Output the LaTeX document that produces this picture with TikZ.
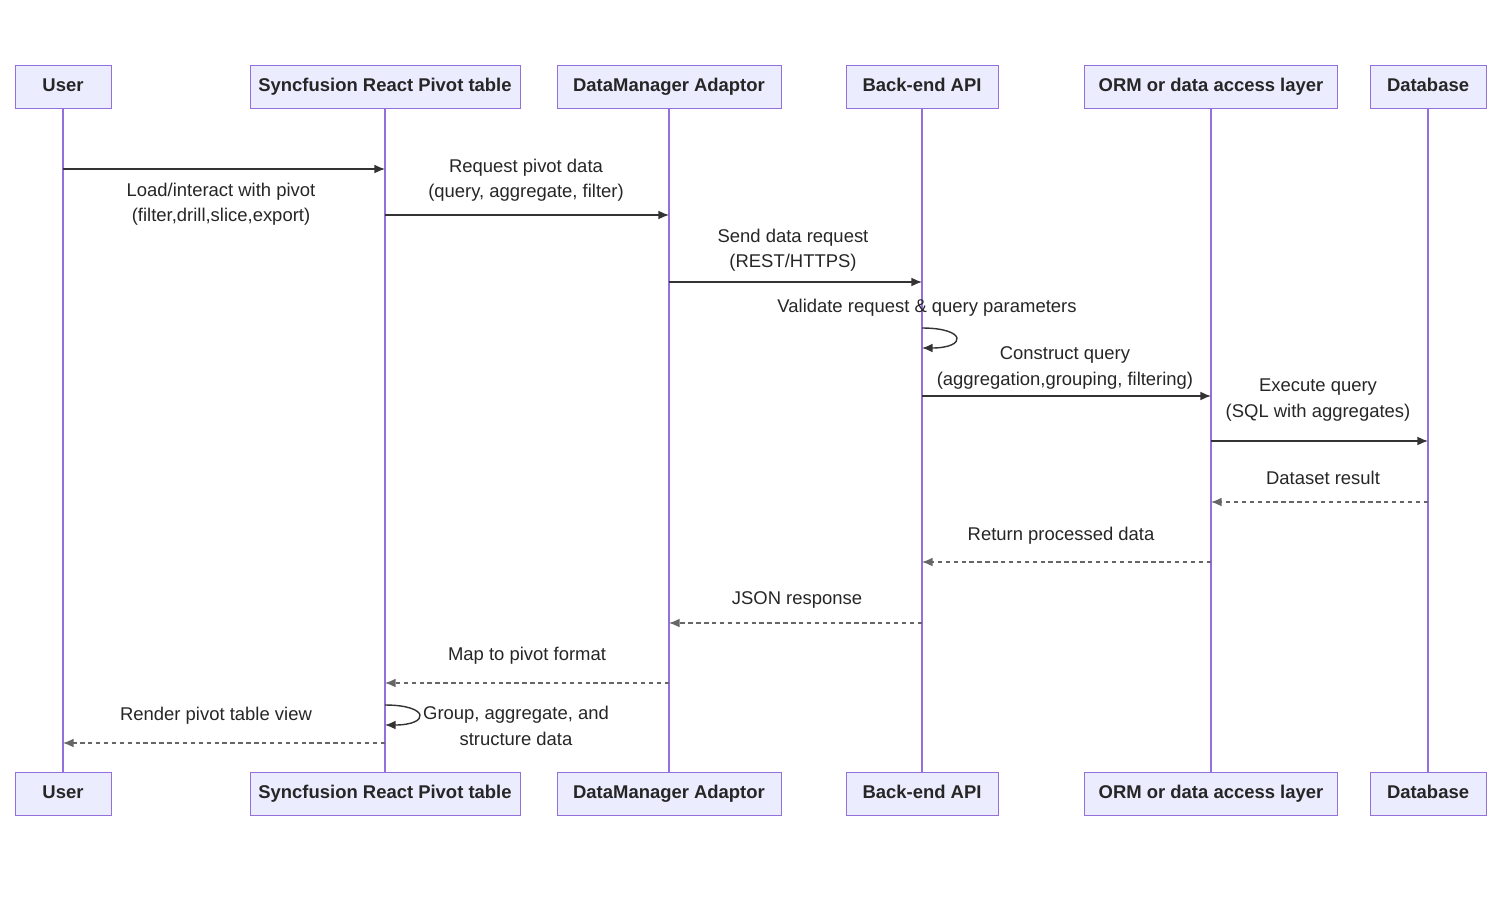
\documentclass[tikz,border=0pt]{standalone}
\usepackage{fontspec}
\setmainfont{Liberation Sans}
\usetikzlibrary{arrows.meta,calc}
\definecolor{actfill}{HTML}{ECECFF}
\definecolor{actline}{HTML}{9370DB}
\definecolor{msg}{HTML}{333333}
\tikzset{
  actor/.style={draw=actline, fill=actfill, minimum height=0.86cm, inner xsep=1pt, text height=8pt, text depth=2pt, font=\bfseries\fontsize{10.5}{13}\selectfont, text=black!85},
  life/.style={actline, line width=0.9pt},
  call/.style={msg, line width=0.8pt, -{Latex[length=6pt,width=5pt]}},
  reply/.style={call, draw=black!60, dash pattern=on 2.5pt off 2pt},
  lbl/.style={font=\fontsize{10.5}{14.5}\selectfont, align=center, text=black!85}
}
\begin{document}
\begin{tikzpicture}[x=0.02cm, y=-0.02cm]
\useasboundingbox (0,0) rectangle (1500,900);
% actors: name/center/width/text
\foreach \n/\x/\w/\t in {usr/63/96/User, piv/385/270/Syncfusion React Pivot table, dma/669/224/DataManager Adaptor, api/922/152/Back-end API, orm/1211/253/ORM or data access layer, db/1428/116/Database}{
  \node[actor, minimum width=\w*0.02cm] (\n t) at (\x,86.5) {\t};
  \node[actor, minimum width=\w*0.02cm] (\n b) at (\x,793.5) {\t};
  \draw[life] (\n t) -- (\n b);
  \foreach \y in {169,215,282,328,348,396,441,502,562,623,683,705,725,743}
    \coordinate (\n\y) at (\x,\y);
}
% calls
\draw[call] (usr169) -- (piv169);
\node[lbl] at (221,204) {Load/interact with pivot\\(filter,drill,slice,export)};
\draw[call] (piv215) -- (dma215);
\node[lbl] at (526,180) {Request pivot data\\(query, aggregate, filter)};
\draw[call] (dma282) -- (api282);
\node[lbl] at (793,250) {Send data request\\(REST/HTTPS)};
\draw[call] (api328) .. controls ($(api328)+(45,0)$) and ($(api348)+(45,0)$) .. (api348);
\node[lbl] at (927,308) {Validate request \& query parameters};
\draw[call] (api396) -- (orm396);
\node[lbl] at (1065,368) {Construct query\\(aggregation,grouping, filtering)};
\draw[call] (orm441) -- (db441);
\node[lbl] at (1318,400) {Execute query\\(SQL with aggregates)};
% replies
\draw[reply] (db502) -- (orm502);
\node[lbl] at (1323,478) {Dataset result};
\draw[reply] (orm562) -- (api562);
\node[lbl] at (1061,536) {Return processed data};
\draw[reply] (api623) -- (dma623);
\node[lbl] at (797,600) {JSON response};
\draw[reply] (dma683) -- (piv683);
\node[lbl] at (527,656) {Map to pivot format};
\draw[call] (piv705) .. controls ($(piv705)+(45,0)$) and ($(piv725)+(45,0)$) .. (piv725);
\node[lbl] at (516,726) {Group, aggregate, and\\structure data};
\draw[reply] (piv743) -- (usr743);
\node[lbl] at (216,716) {Render pivot table view};
\end{tikzpicture}
\end{document}
